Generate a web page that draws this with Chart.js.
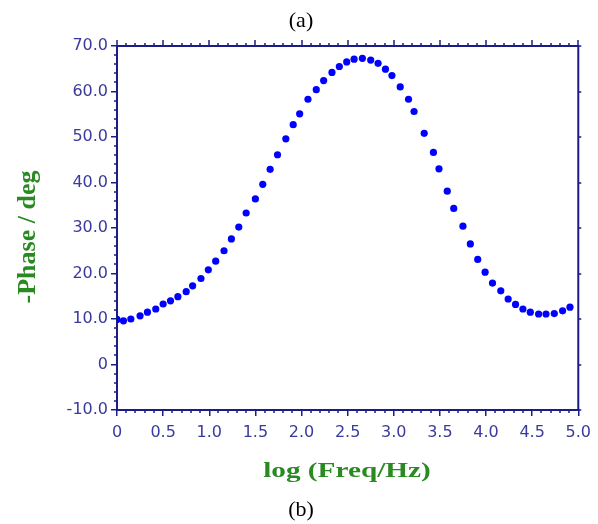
<!DOCTYPE html>
<html>
<head>
<meta charset="utf-8">
<script src="https://cdn.jsdelivr.net/npm/chart.js@4.4.1/dist/chart.umd.min.js"></script>
<style>
  body { margin: 0; background: #fff; }
  #wrap { width: 598px; height: 524px; }
</style>
</head>
<body>
<div id="wrap"><canvas id="chart" width="598" height="524"></canvas></div>
<script>
// log(f) values and -phase readings
const logFreq = [0, 0.07, 0.15, 0.25, 0.33, 0.42, 0.50, 0.58, 0.66, 0.75, 0.82, 0.91, 0.99, 1.07, 1.16, 1.24,
  1.32, 1.40, 1.50, 1.58, 1.66, 1.74, 1.83, 1.91, 1.98, 2.07, 2.16, 2.24, 2.33, 2.41, 2.49, 2.57, 2.66,
  2.75, 2.83, 2.91, 2.98, 3.07, 3.16, 3.22, 3.33, 3.43, 3.49, 3.58, 3.65, 3.75, 3.83, 3.91, 3.99, 4.07,
  4.16, 4.24, 4.32, 4.40, 4.48, 4.57, 4.65, 4.74, 4.83, 4.91];
const phase = [9.9, 9.6, 10.0, 10.7, 11.5, 12.2, 13.3, 14.0, 14.9, 16.0, 17.3, 18.9, 20.8, 22.7, 25.0, 27.6,
  30.2, 33.3, 36.4, 39.6, 42.9, 46.1, 49.6, 52.7, 55.1, 58.3, 60.4, 62.4, 64.2, 65.5, 66.5, 67.1, 67.3,
  66.9, 66.2, 64.9, 63.5, 61.0, 58.3, 55.6, 50.8, 46.6, 43.0, 38.1, 34.3, 30.4, 26.5, 23.1, 20.3, 17.9,
  16.2, 14.4, 13.2, 12.2, 11.5, 11.1, 11.1, 11.2, 11.8, 12.6];
const xTicks = [0, 0.5, 1.0, 1.5, 2.0, 2.5, 3.0, 3.5, 4.0, 4.5, 5.0];
const yTicks = [-10, 0, 10, 20, 30, 40, 50, 60, 70];

const axisColor = '#1c1c86';
const tickFontColor = '#3a3a9c';
const titleColor = '#2a8a22';

const points = logFreq.map((x, i) => ({ x: x, y: phase[i] }));

// box, minor ticks and the captions
const frame = {
  id: 'frame',
  afterDraw(chart) {
    const ctx = chart.ctx;
    const a = chart.chartArea;
    const xs = chart.scales.x, ys = chart.scales.y;
    ctx.save();
    ctx.strokeStyle = axisColor;
    ctx.lineWidth = 2;
    ctx.beginPath();
    ctx.moveTo(a.left, a.top); ctx.lineTo(a.right, a.top); ctx.lineTo(a.right, a.bottom);
    ctx.stroke();

    ctx.lineWidth = 1.5;
    ctx.beginPath();
    for (let i = 0; i <= 50; i++) {
      const px = Math.round(xs.getPixelForValue(i / 10));
      const major = i % 5 === 0;
      // top: ticks point up
      ctx.moveTo(px, a.top); ctx.lineTo(px, a.top - (major ? 6 : 3));
      if (!major) { ctx.moveTo(px, a.bottom); ctx.lineTo(px, a.bottom + 3); }
    }
    for (let v = -10; v <= 70; v += 2) {
      const py = Math.round(ys.getPixelForValue(v));
      if (v % 10 !== 0) { ctx.moveTo(a.left, py); ctx.lineTo(a.left - 3, py); }
      else { ctx.moveTo(a.right, py); ctx.lineTo(a.right + 3, py); }
    }
    ctx.stroke();

    ctx.fillStyle = '#000';
    ctx.textAlign = 'center';
    ctx.font = '22px "Liberation Serif", "Times New Roman", serif';
    ctx.fillText('(a)', 301, 27);
    ctx.fillText('(b)', 301, 516);

    ctx.fillStyle = titleColor;
    ctx.font = 'bold 22px "Liberation Serif", "Times New Roman", serif';
    ctx.save();
    ctx.translate(347, 477);
    ctx.scale(1.33, 1);
    ctx.fillText('log (Freq/Hz)', 0, 0);
    ctx.restore();

    ctx.save();
    ctx.translate(35, 237);
    ctx.rotate(-Math.PI / 2);
    ctx.font = 'bold 26px "Liberation Serif", "Times New Roman", serif';
    ctx.fillText('-Phase / deg', 0, 0);
    ctx.restore();
    ctx.restore();
  }
};

new Chart(document.getElementById('chart'), {
  type: 'scatter',
  data: {
    datasets: [{
      data: points,
      pointRadius: 3.6,
      pointHoverRadius: 3.6,
      pointBackgroundColor: '#0000ff',
      pointBorderWidth: 0,
      showLine: false
    }]
  },
  options: {
    responsive: false,
    animation: false,
    layout: { padding: { left: 0, top: 46, right: 18, bottom: 0 } },
    plugins: { legend: { display: false }, tooltip: { enabled: false } },
    scales: {
      x: {
        type: 'linear', min: 0, max: 5,
        afterFit: s => { s.height = 114; },
        afterBuildTicks: s => { s.ticks = xTicks.map(v => ({ value: v })); },
        grid: { drawOnChartArea: false, drawTicks: true, tickLength: 6, color: axisColor, lineWidth: 1.5 },
        border: { color: axisColor, width: 2 },
        ticks: {
          color: tickFontColor, padding: 7,
          font: { family: '"DejaVu Sans", Verdana, sans-serif', size: 16 },
          callback: v => v === 0 ? '0' : v.toFixed(1)
        }
      },
      y: {
        type: 'linear', min: -10, max: 70,
        afterFit: s => { s.width = 117; },
        afterBuildTicks: s => { s.ticks = yTicks.map(v => ({ value: v })); },
        grid: { drawOnChartArea: false, drawTicks: true, tickLength: 6, color: axisColor, lineWidth: 1.5 },
        border: { color: axisColor, width: 2 },
        ticks: {
          color: tickFontColor, padding: 3,
          font: { family: '"DejaVu Sans", Verdana, sans-serif', size: 16 },
          callback: v => v === 0 ? '0' : v.toFixed(1)
        }
      }
    }
  },
  plugins: [frame]
});
</script>
</body>
</html>
